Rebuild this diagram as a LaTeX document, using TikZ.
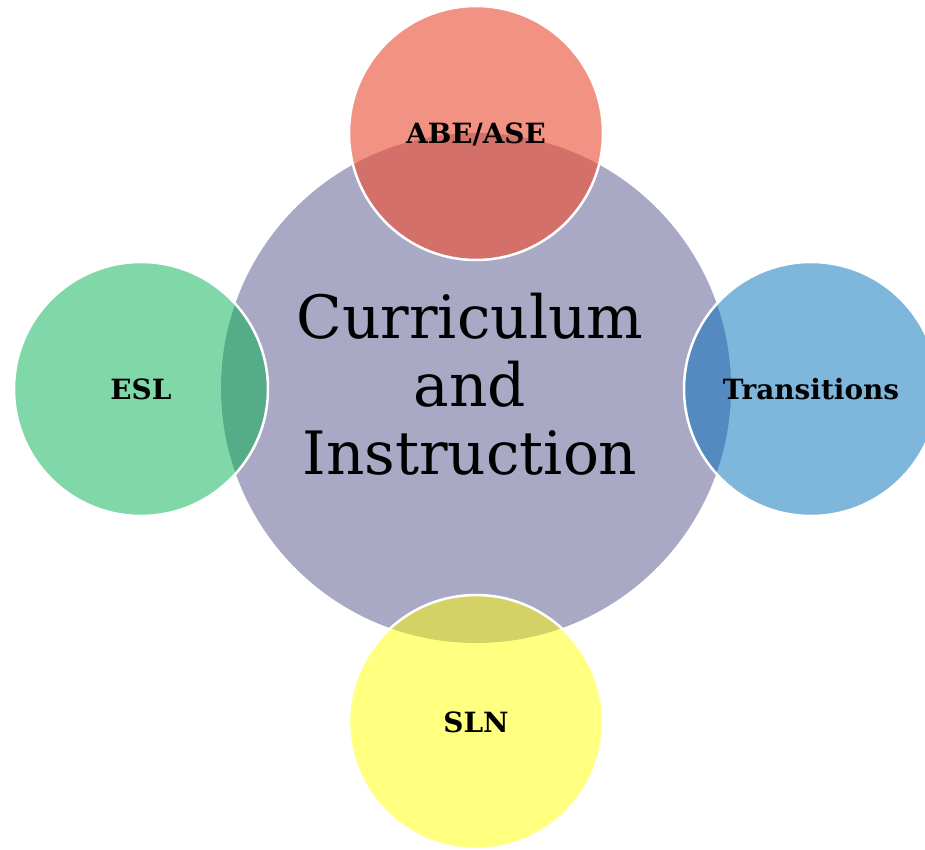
\documentclass[tikz,border=0pt]{standalone}
\usepackage{fontspec}
\setmainfont{DejaVu Serif}
\usetikzlibrary{positioning}

\definecolor{hubfill}{RGB}{169,169,197}
\definecolor{abelight}{RGB}{242,146,130}
\definecolor{abedark}{RGB}{212,112,106}
\definecolor{esllight}{RGB}{128,216,168}
\definecolor{esldark}{RGB}{85,172,136}
\definecolor{trlight}{RGB}{126,182,220}
\definecolor{trdark}{RGB}{84,138,191}
\definecolor{slnlight}{RGB}{255,255,128}
\definecolor{slndark}{RGB}{212,210,100}

\tikzset{
  hub/.style={circle,fill=hubfill,minimum size=510bp,inner sep=0pt},
  petal/.style={circle,minimum size=254bp,inner sep=0pt},
  petallabel/.style={font=\bfseries\fontsize{28}{32}\selectfont,text depth=0pt}
}

\begin{document}
\begin{tikzpicture}
\useasboundingbox (0bp,0bp) rectangle (925bp,-850bp);

\node (core) at (476bp,-388bp)[hub] {};

\foreach \n/\x/\y/\lc/\dc in {abe/476/-133/abelight/abedark,
                              esl/141/-389/esllight/esldark,
                              tr/811/-389/trlight/trdark,
                              sln/476/-722/slnlight/slndark}{
  \node (\n) at (\x bp,\y bp)[petal,fill=\lc] {};
  \begin{scope}
    \clip (core.center) circle (255bp);
    \fill[\dc] (\n.center) circle (127bp);
  \end{scope}
  \draw[white,line width=2.5bp] (\n.center) circle (127bp);
}

\node at (abe)[petallabel] {ABE/ASE};
\node at (esl)[petallabel] {ESL};
\node at (tr)[petallabel] {Transitions};
\node at (sln)[petallabel] {SLN};

\node at (470bp,-384bp)[align=center,font=\fontsize{60}{68}\selectfont] {Curriculum\\and\\Instruction};
\end{tikzpicture}
\end{document}
